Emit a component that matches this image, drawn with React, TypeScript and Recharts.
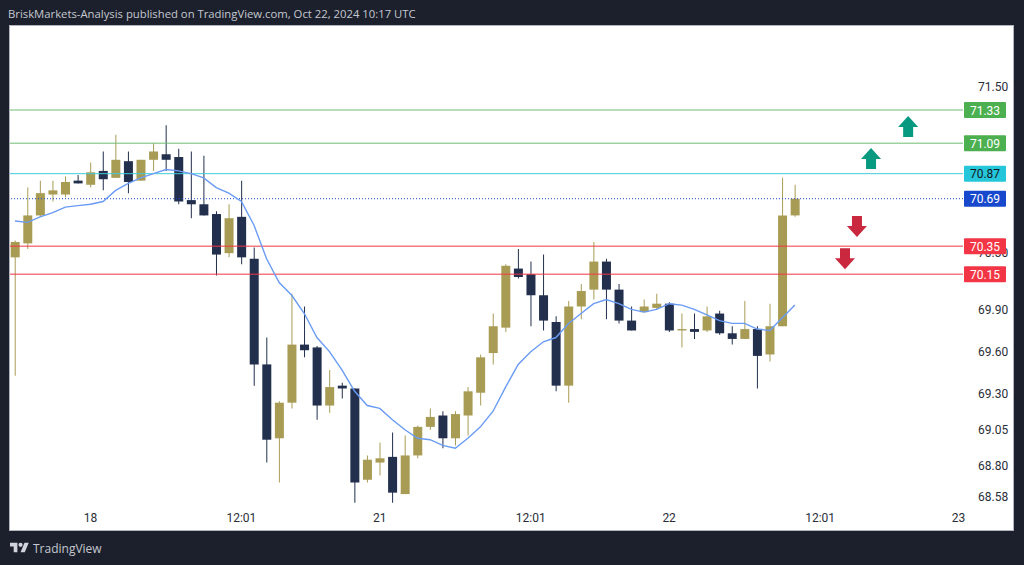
import React from "react";
import {
  ComposedChart,
  Bar,
  Line,
  Cell,
  XAxis,
  YAxis,
  ReferenceLine,
  ReferenceDot,
} from "recharts";

const opens = [
  70.27, 70.37, 70.57, 70.72, 70.72, 70.82, 70.79, 70.89, 70.84, 70.96, 70.82, 70.97, 71.01, 70.99, 70.68, 70.65,
  70.58, 70.3, 70.56, 70.26, 69.51, 68.99, 69.24, 69.65, 69.63, 69.22, 69.36, 69.34, 68.7, 68.82, 68.86, 68.6,
  68.87, 69.07, 69.15, 68.99, 69.15, 69.31, 69.59, 69.77, 70.19, 70.15, 70.0, 69.81, 69.36, 69.92, 70.04, 70.24,
  70.04, 69.82, 69.88, 69.91, 69.94, 69.75, 69.76, 69.75, 69.87, 69.73, 69.69, 69.76, 69.58, 69.78, 70.57,
];
const highs = [
  70.39, 70.77, 70.82, 70.82, 70.85, 70.86, 70.95, 71.03, 71.15, 71.03, 70.97, 71.09, 71.22, 71.05, 71.03, 71.0,
  70.6, 70.65, 70.82, 70.34, 69.7, 69.25, 70.01, 69.92, 69.64, 69.47, 69.38, 69.34, 68.87, 68.96, 69.03, 69.01,
  69.08, 69.2, 69.18, 69.18, 69.35, 69.58, 69.87, 70.22, 70.33, 70.24, 70.29, 69.85, 69.96, 70.08, 70.38, 70.26,
  70.08, 69.92, 69.97, 70.01, 69.95, 69.87, 69.87, 69.92, 69.89, 69.78, 69.96, 69.78, 69.94, 70.84, 70.79,
];
const lows = [
  69.43, 70.33, 70.56, 70.67, 70.7, 70.8, 70.77, 70.75, 70.84, 70.73, 70.82, 70.89, 70.89, 70.65, 70.55, 70.57,
  70.14, 70.27, 70.22, 69.36, 68.82, 68.68, 69.2, 69.56, 69.12, 69.17, 69.27, 68.54, 68.68, 68.73, 68.54, 68.6,
  68.85, 69.05, 68.92, 68.94, 69.01, 69.22, 69.51, 69.74, 70.12, 69.78, 69.75, 69.32, 69.24, 69.83, 69.97, 69.83,
  69.8, 69.75, 69.88, 69.9, 69.74, 69.63, 69.69, 69.74, 69.72, 69.65, 69.69, 69.34, 69.53, 69.78, 70.56,
];
const closes = [
  70.38, 70.57, 70.73, 70.75, 70.81, 70.8, 70.88, 70.83, 70.97, 70.81, 70.97, 71.03, 70.97, 70.67, 70.65, 70.57,
  70.29, 70.55, 70.27, 69.51, 68.98, 69.24, 69.65, 69.61, 69.22, 69.35, 69.34, 68.68, 68.84, 68.85, 68.61, 68.87,
  69.07, 69.14, 68.99, 69.16, 69.32, 69.56, 69.78, 70.21, 70.13, 70.0, 69.82, 69.36, 69.92, 70.03, 70.24, 70.04,
  69.82, 69.75, 69.92, 69.94, 69.75, 69.76, 69.74, 69.85, 69.73, 69.69, 69.76, 69.57, 69.78, 70.57, 70.69,
];
const averages = [
  70.53, 70.52, 70.56, 70.59, 70.63, 70.64, 70.65, 70.67, 70.75, 70.8, 70.84, 70.87, 70.9, 70.89, 70.87, 70.84,
  70.77, 70.73, 70.67, 70.5, 70.26, 70.09, 70.0, 69.87, 69.7, 69.6, 69.47, 69.32, 69.22, 69.2, 69.12, 69.05,
  68.99, 68.98, 68.94, 68.92, 68.99, 69.07, 69.18, 69.35, 69.51, 69.6, 69.67, 69.7, 69.8, 69.87, 69.94, 69.97,
  69.94, 69.9, 69.88, 69.9, 69.94, 69.93, 69.9, 69.86, 69.82, 69.8, 69.8, 69.76, 69.75, 69.84, 69.93,
];

const priceTicks = [71.5, 70.3, 69.9, 69.6, 69.3, 69.05, 68.8, 68.58];
const priceDomain = [68.524, 71.9414];
const timeTicks = [6, 18, 29, 41, 52, 64, 75];
const timeLabels = ["18", "12:01", "21", "12:01", "22", "12:01", "23"];
const timeDomain = [-0.397, 75.36];

const levels = [
  { price: 71.33, line: "#6fbb72", tag: "#4caf50", text: "#ffffff" },
  { price: 71.09, line: "#6fbb72", tag: "#4caf50", text: "#ffffff" },
  { price: 70.87, line: "#40cbd8", tag: "#26c6da", text: "#131722" },
  { price: 70.69, line: "#1848cc", tag: "#1848cc", text: "#ffffff", dash: "1 2" },
  { price: 70.35, line: "#f23645", tag: "#f23645", text: "#ffffff" },
  { price: 70.15, line: "#f23645", tag: "#f23645", text: "#ffffff" },
];

const arrows = [
  { index: 71, price: 71.21, up: true },
  { index: 68.05, price: 70.98, up: true },
  { index: 66.93, price: 70.49, up: false },
  { index: 65.98, price: 70.26, up: false },
];

const GOLD = "#a89c55";
const NAVY = "#222f4d";
const MARGIN = { top: 26, right: 11, bottom: 35, left: 10 };

const data = opens.map((open, i) => ({
  index: i,
  open,
  close: closes[i],
  body: [Math.min(open, closes[i]), Math.max(open, closes[i])],
  wick: [lows[i], highs[i]],
  average: averages[i],
}));

const PriceTag = ({ viewBox, level }: any) => {
  const x = viewBox.x + viewBox.width + 1;
  const y = viewBox.y;
  return (
    <g>
      <rect x={x} y={y - 8} width={42} height={16} rx={1} fill={level.tag} />
      <text
        x={x + 21}
        y={y + 4.5}
        textAnchor="middle"
        fill={level.text}
        style={{ fontSize: 12, fontFamily: "Roboto" }}>
        {level.price.toFixed(2)}
      </text>
    </g>
  );
};

const Arrow = ({ cx, cy, up }: any) => {
  const s = up ? 1 : -1;
  const points = [
    [0, -10.5],
    [10, 0.5],
    [5, 0.5],
    [5, 10.5],
    [-5, 10.5],
    [-5, 0.5],
    [-10, 0.5],
  ]
    .map(([dx, dy]) => `${cx + dx},${cy + s * dy}`)
    .join(" ");
  return <polygon points={points} fill={up ? "#089981" : "#c9283e"} />;
};

const App = () => {
  return (
    <div
      style={{
        position: "absolute",
        left: 0,
        top: 0,
        width: 1024,
        height: 565,
        background: "#1c202c",
        overflow: "hidden",
      }}>
      <div
        style={{
          position: "absolute",
          left: 8,
          top: 6,
          color: "#c5c8d0",
          fontSize: 11.3,
          fontFamily: "Open Sans",
          whiteSpace: "nowrap",
        }}>
        BriskMarkets-Analysis published on TradingView.com, Oct 22, 2024 10:17 UTC
      </div>
      <div
        style={{
          position: "absolute",
          left: 10,
          top: 26,
          width: 1003,
          height: 504,
          background: "#ffffff",
          boxShadow: "0 0 0 1px #b2b5be",
        }}
      />
      <svg style={{ position: "absolute", left: 10, top: 542 }} width={19} height={11} viewBox="0 4 36 18">
        <path d="M14 22H7V11H0V4h14v18zM28 22h-8l7.5-18h8L28 22z" fill="#d1d4dc" />
        <circle cx={20} cy={8} r={4} fill="#d1d4dc" />
      </svg>
      <div
        style={{
          position: "absolute",
          left: 33,
          top: 540,
          color: "#c5c8d0",
          fontSize: 12,
          fontFamily: "Open Sans",
        }}>
        TradingView
      </div>
      <div style={{ position: "absolute", left: 0, top: 0 }}>
        <ComposedChart width={1024} height={565} data={data} margin={MARGIN}>
          <XAxis
            xAxisId="body"
            dataKey="index"
            type="number"
            domain={timeDomain}
            ticks={timeTicks}
            tickFormatter={(v) => timeLabels[timeTicks.indexOf(v)]}
            tick={{ fontSize: 12, fill: "#2a2e39", fontFamily: "Roboto" }}
            tickLine={false}
            axisLine={false}
            height={25}
            allowDataOverflow
          />
          <XAxis xAxisId="wick" dataKey="index" type="number" domain={timeDomain} hide allowDataOverflow />
          <YAxis
            orientation="right"
            scale="log"
            type="number"
            domain={priceDomain}
            ticks={priceTicks}
            tickFormatter={(v) => v.toFixed(2)}
            tick={{ fontSize: 12, fill: "#2a2e39", fontFamily: "Roboto" }}
            tickLine={false}
            axisLine={false}
            tickMargin={9}
            width={50}
            allowDataOverflow
          />
          {levels.map((level) => (
            <ReferenceLine
              key={level.price}
              xAxisId="body"
              y={level.price}
              stroke={level.line}
              strokeWidth={1}
              strokeDasharray={level.dash}
            />
          ))}
          <Line
            xAxisId="body"
            dataKey="average"
            stroke="#6a9bf4"
            strokeWidth={1.4}
            dot={false}
            type="linear"
            isAnimationActive={false}
          />
          <Bar xAxisId="wick" dataKey="wick" barSize={1} isAnimationActive={false}>
            {data.map((d) => (
              <Cell key={d.index} fill={d.close >= d.open ? GOLD : NAVY} />
            ))}
          </Bar>
          <Bar xAxisId="body" dataKey="body" barSize={9} isAnimationActive={false}>
            {data.map((d) => (
              <Cell key={d.index} fill={d.close >= d.open ? GOLD : NAVY} />
            ))}
          </Bar>
          {arrows.map((a) => (
            <ReferenceDot
              key={a.index}
              xAxisId="body"
              x={a.index}
              y={a.price}
              shape={(props) => <Arrow {...props} up={a.up} />}
            />
          ))}
        </ComposedChart>
      </div>
      {/* second chart on top: the price tags have to cover the axis ticks */}
      <div style={{ position: "absolute", left: 0, top: 0 }}>
        <ComposedChart width={1024} height={565} data={data} margin={MARGIN}>
          <XAxis dataKey="index" type="number" domain={timeDomain} tick={false} tickLine={false} axisLine={false} height={25} />
          <YAxis
            orientation="right"
            scale="log"
            type="number"
            domain={priceDomain}
            tick={false}
            tickLine={false}
            axisLine={false}
            width={50}
            allowDataOverflow
          />
          {levels.map((level) => (
            <ReferenceLine
              key={level.price}
              y={level.price}
              stroke="none"
              label={<PriceTag level={level} />}
            />
          ))}
        </ComposedChart>
      </div>
    </div>
  );
};

export default App;
